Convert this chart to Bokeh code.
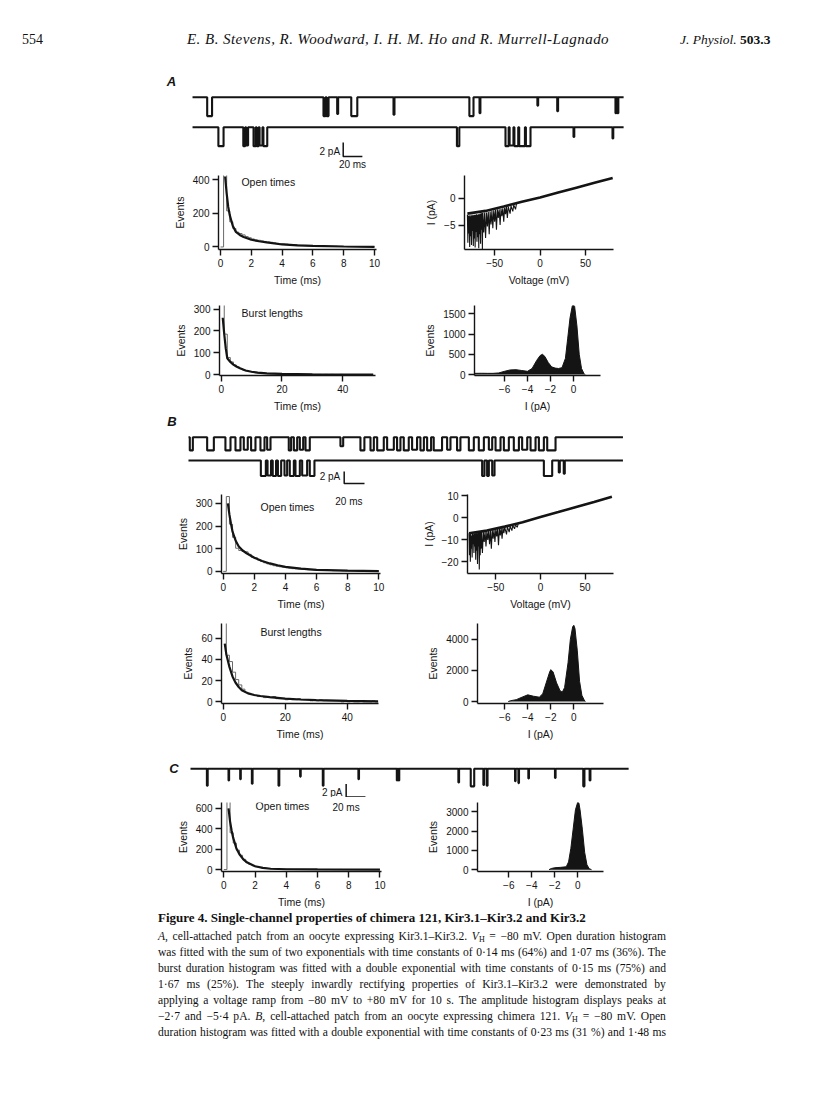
from bokeh.plotting import figure
from bokeh.layouts import column, row
from bokeh.models import Div, Label, Range1d, FixedTicker, Spacer
from bokeh.embed import file_html
from bokeh.resources import INLINE

SANS = "Liberation Sans"
SERIF = "Liberation Serif"
INK = "#141414"
GREY = "#6a6a6a"

# ---------------------------------------------------------------- data
# scale bars of the single-channel records
SCALE_PA = 2
SCALE_MS = 20

# Panel A records: openings (start ms, end ms, current pA)
A_LEN = 450.0
a1_start = [15.3, 136.7, 140.0, 151.0, 165.7, 209.8, 289.0, 299.6, 360.0, 380.7, 441.5, 443.6]
a1_end = [20.4, 138.8, 142.0, 152.0, 172.0, 210.8, 293.3, 300.5, 360.8, 381.6, 442.3, 444.5]
a1_amp = [-2.7, -2.7, -2.7, -2.4, -2.7, -2.5, -2.7, -2.3, -1.2, -2.0, -2.3, -2.3]
a2_start = [27.0, 53.0, 56.0, 63.7, 67.0, 70.0, 74.0, 276.0, 326.7, 331.0, 336.0, 341.0, 348.0, 397.7, 438.4]
a2_end = [32.4, 55.0, 58.0, 66.0, 69.0, 73.0, 78.0, 278.5, 330.0, 335.0, 340.0, 347.0, 352.8, 398.5, 439.2]
a2_amp = [-2.7, -2.7, -2.6, -2.7, -2.7, -2.6, -2.7, -2.7, -2.7, -2.6, -2.7, -2.7, -2.7, -1.4, -1.6]

# Panel B records
B_LEN = 428.0
b1_start = [1.3, 18.4, 36.4, 46.3, 54.5, 61.7, 70.9, 77.5, 98.8, 103.8, 109.7, 115.3, 149.7, 169.4,
            179.3, 185.9, 195.7, 205.5, 212.1, 220.3, 228.5, 235.1, 241.6, 254.8, 264.6, 276.2,
            286.0, 295.9, 302.5, 310.7, 320.5, 328.7, 337.0, 345.2, 353.4]
b1_end = [4.3, 25.0, 41.4, 51.2, 58.4, 66.0, 74.9, 80.8, 101.1, 107.1, 113.0, 119.5, 152.4, 173.3,
          182.6, 192.4, 202.3, 208.8, 217.0, 225.2, 231.9, 239.0, 249.8, 258.1, 267.9, 281.1,
          291.0, 299.2, 307.4, 315.6, 325.5, 333.7, 341.9, 350.1, 361.6]
b1_amp = [-2.2, -2.2, -2.2, -2.2, -2.1, -2.2, -2.2, -2.1, -2.2, -2.2, -2.1, -2.2, -1.5, -2.2,
          -2.2, -2.2, -2.1, -2.2, -2.2, -2.1, -2.2, -2.2, -2.2, -2.1, -2.2, -2.2,
          -2.2, -2.1, -2.2, -2.2, -2.2, -2.1, -2.2, -2.2, -2.2]
b2_start = [71.3, 77.9, 83.0, 88.1, 94.6, 99.8, 105.4, 112.0, 119.5, 289.3, 294.2, 299.2, 350.1, 364.8, 369.7]
b2_end = [76.2, 81.3, 86.3, 91.3, 97.2, 103.8, 109.7, 116.9, 124.1, 291.6, 295.9, 301.5, 358.3, 365.8, 370.7]
b2_amp = [-2.6, -2.5, -2.6, -2.6, -2.5, -2.6, -2.6, -2.5, -2.6, -2.6, -2.6, -2.5, -2.6, -2.0, -2.2]

# Panel C record
C_LEN = 454.0
c_start = [17.0, 39.4, 51.5, 63.6, 91.2, 113.6, 137.1, 174.0, 213.8, 215.6, 277.6, 290.4, 303.5,
           307.0, 336.3, 339.8, 350.1, 377.7, 407.0, 413.6]
c_end = [17.8, 40.0, 52.1, 64.3, 92.0, 114.2, 137.8, 174.6, 214.4, 216.3, 278.3, 294.0, 304.2,
         307.8, 336.9, 340.4, 350.7, 378.3, 408.2, 414.4]
c_amp = [-2.6, -1.8, -1.6, -2.3, -2.6, -1.2, -2.6, -1.6, -1.8, -1.8, -2.1, -2.7, -2.5,
         -2.6, -1.9, -2.2, -1.5, -1.4, -2.7, -1.8]

# open-time histograms (0.2 ms bins from 0 to 10 ms)
OPEN_BIN = 0.2
a_open_counts = [0, 470, 215, 150, 110, 88, 80, 72, 62, 55, 48, 43, 40, 36, 33, 30, 28, 25, 22, 20,
                 18, 17, 15, 14, 12, 11, 10, 9, 8, 8, 7, 6, 6, 5, 5, 4, 4, 4, 3, 3,
                 3, 2, 2, 2, 2, 1, 1, 1, 1, 1]
a_open_fit_t = [0.3, 0.4, 0.5, 0.6, 0.8, 1.0, 1.25, 1.5, 2.0, 2.5, 3.0, 4.0, 5.0, 6.0, 8.0, 10.0]
a_open_fit_n = [420, 320, 240, 190, 125, 90, 72, 60, 43, 34, 27, 15, 10, 7, 3, 1]

b_open_counts = [0, 330, 208, 150, 102, 92, 88, 86, 75, 62, 60, 50, 44, 38, 33, 29, 25, 22, 20, 18,
                 16, 14, 12, 11, 10, 9, 8, 7, 7, 6, 5, 5, 4, 4, 4, 3, 3, 3, 2, 2,
                 2, 2, 2, 1, 1, 1, 1, 1, 1, 1]
b_open_fit_t = [0.3, 0.4, 0.5, 0.6, 0.8, 1.0, 1.25, 1.5, 2.0, 2.5, 3.0, 3.5, 4.0, 5.0, 6.0, 8.0, 10.0]
b_open_fit_n = [300, 250, 210, 175, 135, 110, 92, 80, 60, 46, 35, 27, 20, 12, 7, 3, 1]

c_open_counts = [0, 760, 360, 260, 190, 140, 100, 70, 50, 38, 28, 20, 15, 12, 10, 8, 6, 5, 4, 4,
                 3, 3, 2, 2, 2, 2, 1, 1, 1, 1, 1, 1, 1, 1, 1, 0, 0, 1, 0, 0,
                 0, 0, 0, 0, 0, 0, 0, 0, 0, 0]
c_open_fit_t = [0.3, 0.4, 0.5, 0.6, 0.8, 1.0, 1.25, 1.5, 2.0, 2.5, 3.0, 4.0, 6.0, 10.0]
c_open_fit_n = [600, 470, 380, 310, 210, 150, 100, 68, 32, 16, 8, 3, 1, 0]

# burst-length histograms (1 ms bins from 0 to 50 ms)
BURST_BIN = 1.0
a_burst_counts = [330, 185, 78, 58, 44, 35, 27, 21, 17, 14, 11, 9, 7, 6, 5, 4, 3, 3, 2, 2,
                  2, 1, 1, 1, 1, 1, 1, 1, 1, 1, 1, 1, 1, 0, 1, 0, 1, 0, 0, 1,
                  0, 0, 0, 0, 0, 0, 0, 0, 0, 0]
a_burst_fit_t = [0.5, 1.0, 1.5, 2.0, 3.0, 4.0, 5.0, 6.0, 8.0, 10.0, 12.0, 15.0, 20.0, 30.0, 50.0]
a_burst_fit_n = [260, 185, 120, 75, 58, 46, 37, 30, 19, 13, 9, 6, 3, 1, 0]

b_burst_counts = [80, 44, 38, 28, 21, 16, 12, 9, 8, 7, 6, 5, 5, 4, 5, 4, 5, 3, 3, 3,
                  2, 3, 2, 2, 3, 2, 2, 2, 1, 2, 1, 2, 1, 1, 1, 1, 1, 1, 0, 1,
                  0, 1, 0, 0, 1, 0, 0, 0, 1, 0]
b_burst_fit_t = [0.5, 1.0, 2.0, 3.0, 4.0, 5.0, 6.0, 8.0, 10.0, 12.0, 15.0, 20.0, 25.0, 30.0, 40.0, 50.0]
b_burst_fit_n = [55, 45, 33, 24, 18, 14, 11, 8, 6.5, 5.5, 4.5, 3, 2.2, 1.6, 0.9, 0.5]

# current-voltage ramps: upper edge of the ramp and the noisy openings below it
a_ramp_v = [-80, -60, -40, -20, 0, 20, 40, 60, 80]
a_ramp_i = [-2.8, -2.3, -1.5, -0.6, 0.2, 1.1, 2.0, 2.9, 3.8]
a_open_v = [-80, -79.5, -79, -78.5, -78, -77.5, -77, -76.5, -76, -75.5, -75, -74.5, -74, -73.5, -73,
            -72.5, -72, -71.5, -71, -70.5, -70, -69.5, -69, -68.5, -68, -67.5, -67, -66.5, -66,
            -65.5, -65, -64.5, -64, -63.5, -63, -62, -61, -60, -59, -58, -57, -56, -55, -54, -53,
            -52, -51, -50, -49, -48, -47, -46, -45, -44, -43, -42, -41, -40, -39, -38, -37, -36,
            -35, -33, -32, -30, -29, -27, -26]
a_open_i = [-3.0, -8.2, -3.2, -6.5, -3.1, -9.0, -3.3, -7.0, -3.0, -8.6, -3.2, -6.0, -3.0, -8.8, -3.1,
            -7.4, -3.0, -9.1, -3.0, -6.2, -2.9, -8.0, -3.0, -7.2, -2.9, -9.2, -2.9, -6.6, -2.8,
            -8.4, -2.8, -5.8, -2.7, -9.4, -2.7, -6.3, -2.6, -7.3, -2.6, -5.2, -2.5, -6.6, -2.4, -4.8, -2.3,
            -5.5, -2.2, -4.3, -2.1, -5.8, -2.0, -3.6, -2.0, -4.9, -1.9, -3.3, -1.8, -4.3, -1.7, -2.9, -1.6, -3.6,
            -1.5, -2.8, -1.4, -2.4, -1.2, -2.0, -1.0]

b_ramp_v = [-80, -60, -40, -20, 0, 20, 40, 60, 80]
b_ramp_i = [-7.0, -5.8, -4.0, -2.0, 0.4, 2.6, 4.9, 7.2, 9.6]
b_open_v = [-80, -79.5, -79, -78.5, -78, -77.5, -77, -76.5, -76, -75.5, -75, -74.5, -74, -73.5, -73,
            -72.5, -72, -71.5, -71, -70.5, -70, -69.5, -69, -68.5, -68, -67.5, -67, -66.5, -66, -65,
            -64, -63, -62, -61, -60, -59, -58, -57, -56, -55, -54, -53, -52, -51, -50, -49, -48, -47,
            -46, -45, -44, -43, -42, -41, -40, -38, -37, -35, -34, -32, -31, -29, -28, -26, -25]
b_open_i = [-7.0, -17, -7.5, -20, -7.0, -14, -8.0, -18, -7.0, -12, -7.5, -16, -7.0, -13, -7.0,
            -19, -6.8, -15, -7.0, -21, -6.8, -13, -6.7, -23.5, -6.6, -17, -6.5, -14, -6.4, -16,
            -6.3, -11, -6.2, -13, -6.1, -10, -5.9, -12, -5.8, -14, -5.6, -9.5, -5.4, -11, -5.2, -8.5, -5.0, -12.5,
            -4.9, -8.0, -4.7, -9.5, -4.5, -7.0, -4.3, -7.5, -4.1, -6.5, -3.8, -5.8, -3.5, -5.0, -3.2, -4.3, -2.9]

# amplitude histograms (current pA, events)
a_amp_i = [-8.6, -8.0, -7.5, -7.0, -6.5, -6.0, -5.5, -5.0, -4.5, -4.0, -3.6, -3.2, -2.9, -2.7, -2.5,
           -2.2, -1.9, -1.6, -1.3, -1.0, -0.7, -0.5, -0.3, -0.1, 0.0, 0.1, 0.3, 0.5, 0.7, 0.9, 1.0]
a_amp_n = [30, 32, 30, 30, 40, 80, 115, 120, 100, 80, 150, 350, 470, 500, 450,
           300, 190, 160, 150, 170, 400, 900, 1400, 1700, 1720, 1680, 1200, 500, 150, 30, 0]
b_amp_i = [-5.7, -5.5, -5.0, -4.5, -4.0, -3.5, -3.0, -2.7, -2.4, -2.1, -2.0, -1.8, -1.5, -1.2, -1.0,
           -0.8, -0.5, -0.3, -0.1, 0.0, 0.1, 0.3, 0.5, 0.7, 0.9, 1.0]
b_amp_n = [0, 50, 120, 280, 430, 340, 280, 500, 1200, 1900, 2050, 1900, 1200, 700, 600,
           900, 2500, 4000, 4800, 4900, 4700, 3300, 1300, 400, 100, 0]
c_amp_i = [-2.5, -2.3, -2.0, -1.5, -1.0, -0.8, -0.6, -0.4, -0.2, 0.0, 0.1, 0.2, 0.4, 0.6, 0.8, 1.0, 1.2]
c_amp_n = [0, 60, 100, 120, 150, 400, 1100, 2100, 3100, 3500, 3450, 3100, 2100, 900, 250, 50, 0]

# tick values
open_xticks = [0, 2, 4, 6, 8, 10]
burst_xticks = [0, 20, 40]
iv_xticks = [-50, 0, 50]
amp_xticks = [-6, -4, -2, 0]

# text
HEADER_PAGE = "554"
HEADER_AUTHORS = "E. B. Stevens, R. Woodward, I. H. M. Ho and R. Murrell-Lagnado"
HEADER_JOURNAL = "J. Physiol."
HEADER_VOLUME = "503.3"
CAPTION_TITLE = "Figure 4. Single-channel properties of chimera 121, Kir3.1\u2013Kir3.2 and Kir3.2"
CAPTION_LINES = [
    "<i>A</i>, cell-attached patch from an oocyte expressing Kir3.1\u2013Kir3.2. @VH@ = \u221280 mV. Open duration histogram",
    "was fitted with the sum of two exponentials with time constants of 0\u00b714 ms (64%) and 1\u00b707 ms (36%). The",
    "burst duration histogram was fitted with a double exponential with time constants of 0\u00b715 ms (75%) and",
    "1\u00b767 ms (25%). The steeply inwardly rectifying properties of Kir3.1\u2013Kir3.2 were demonstrated by",
    "applying a voltage ramp from \u221280 mV to +80 mV for 10 s. The amplitude histogram displays peaks at",
    "\u22122\u00b77 and \u22125\u00b74 pA. <i>B</i>, cell-attached patch from an oocyte expressing chimera 121. @VH@ = \u221280 mV. Open",
    "duration histogram was fitted with a double exponential with time constants of 0\u00b723 ms (31 %) and 1\u00b748 ms",
]


# ---------------------------------------------------------------- helpers
def tick_text(v):
    s = str(int(v)) if float(v).is_integer() else str(v)
    return s.replace("-", "\u2212")


def base_fig(w, h, xr, yr, mb):
    l, r, t, b = mb
    p = figure(width=w, height=h, x_range=Range1d(*xr), y_range=Range1d(*yr),
               output_backend="svg", toolbar_location=None, title=None,
               min_border_left=l, min_border_right=r, min_border_top=t, min_border_bottom=b)
    p.outline_line_color = None
    p.xgrid.visible = False
    p.ygrid.visible = False
    p.background_fill_color = "white"
    p.border_fill_color = "white"
    return p


def style_axes(p, xticks, yticks, xlabel, ylabel):
    p.xaxis.ticker = FixedTicker(ticks=xticks)
    p.yaxis.ticker = FixedTicker(ticks=yticks)
    p.xaxis.major_label_overrides = {v: tick_text(v) for v in xticks}
    p.yaxis.major_label_overrides = {v: tick_text(v) for v in yticks}
    p.xaxis.axis_label = xlabel
    p.yaxis.axis_label = ylabel
    for ax in (p.xaxis[0], p.yaxis[0]):
        ax.axis_line_width = 1.4
        ax.axis_line_color = INK
        ax.major_tick_line_width = 1.4
        ax.major_tick_line_color = INK
        ax.major_tick_in = 0
        ax.major_tick_out = 6
        ax.minor_tick_line_color = None
        ax.major_label_text_font = SANS
        ax.major_label_text_font_size = "10px"
        ax.major_label_text_color = INK
        ax.major_label_standoff = 3
        ax.axis_label_text_font = SANS
        ax.axis_label_text_font_size = "10.5px"
        ax.axis_label_text_font_style = "normal"
        ax.axis_label_text_color = INK
        ax.axis_label_standoff = 4


def add_label(p, x, y, text, size="10.5px", align="left", style="normal", baseline="middle"):
    p.add_layout(Label(x=x, y=y, text=text, text_font=SANS, text_font_size=size,
                       text_font_style=style, text_align=align, text_baseline=baseline,
                       text_color=INK))


def trace_xy(length, starts, ends, amps, offset):
    xs, ys = [0.0], [offset]
    for s, e, a in zip(starts, ends, amps):
        xs += [s, s, e, e]
        ys += [offset, offset + a, offset + a, offset]
    xs.append(length)
    ys.append(offset)
    return xs, ys


def trace_fig(h, xr, yr):
    p = figure(width=800, height=h, x_range=Range1d(*xr), y_range=Range1d(*yr),
               output_backend="svg", toolbar_location=None, title=None,
               x_axis_type=None, y_axis_type=None, min_border=0)
    p.outline_line_color = None
    p.background_fill_color = "white"
    p.border_fill_color = "white"
    return p


def scale_bar(p, t0, y0, label_x, label_y):
    p.line([t0, t0, t0 + SCALE_MS], [y0 + SCALE_PA, y0, y0], line_color=INK, line_width=1.5)
    add_label(p, label_x, label_y, f"{SCALE_PA} pA", size="10px", align="right")


def hist_fig(w, h, xr, yr, mb, counts, binw, fit_t, fit_n, xticks, yticks):
    p = base_fig(w, h, xr, yr, mb)
    edges = [i * binw for i in range(len(counts) + 1)]
    p.step(edges, counts + [0], mode="after", line_color=GREY, line_width=1)
    p.line(fit_t, fit_n, line_color=INK, line_width=2.2)
    style_axes(p, xticks, yticks, "Time (ms)", "Events")
    return p


def iv_fig(w, h, xr, yr, mb, rv, ri, ov, oi, yticks):
    p = base_fig(w, h, xr, yr, mb)
    p.line(ov, oi, line_color=INK, line_width=1.1)
    p.line(rv, ri, line_color=INK, line_width=2.6)
    style_axes(p, iv_xticks, yticks, "Voltage (mV)", "I (pA)")
    return p


def amp_fig(w, h, xr, yr, mb, ai, an, yticks):
    p = base_fig(w, h, xr, yr, mb)
    p.varea(x=ai, y1=[0] * len(ai), y2=an, fill_color=INK)
    p.line(ai, an, line_color=INK, line_width=1)
    style_axes(p, amp_xticks, yticks, "I (pA)", "Events")
    return p


# ---------------------------------------------------------------- header
header_html = (
    f'<div style="position:relative;width:800px;height:54px;font-family:\'{SERIF}\',serif;color:#111;">'
    f'<span style="position:absolute;left:14px;top:24px;font-size:14px;line-height:16px;">{HEADER_PAGE}</span>'
    f'<span style="position:absolute;left:179px;top:23px;font-size:15px;line-height:17px;font-style:italic;letter-spacing:0.45px;white-space:nowrap;">{HEADER_AUTHORS}</span>'
    f'<span style="position:absolute;left:672px;top:23px;font-size:13.5px;line-height:17px;white-space:nowrap;">'
    f'<i>{HEADER_JOURNAL}</i> <b>{HEADER_VOLUME}</b></span>'
    '</div>'
)
header = Div(text=header_html, width=800, height=54, margin=0)

# ---------------------------------------------------------------- panel A
a_tr = trace_fig(109, (-192.1, 643.0), (-10.61, 4.96))
for st, en, am, off in ((a1_start, a1_end, a1_amp, 0.0), (a2_start, a2_end, a2_amp, -4.29)):
    xs, ys = trace_xy(A_LEN, st, en, am, off)
    a_tr.line(xs, ys, line_color=INK, line_width=2.1)
scale_bar(a_tr, 157.3, -8.45, 154.0, -7.8)
add_label(a_tr, 167.0, -9.66, f"{SCALE_MS} ms", size="10px", align="center")
add_label(a_tr, -21.9, 2.24, "A", size="13px", align="center", style="bold italic")

a_open = hist_fig(392, 117, (-0.13, 10.13), (-15, 426), (210, 24, 0, 37),
                  a_open_counts, OPEN_BIN, a_open_fit_t, a_open_fit_n, open_xticks, [0, 200, 400])
add_label(a_open, 1.36, 390, "Open times")

a_iv = iv_fig(408, 117, (-83.2, 80.9), (-9.45, 4.26), (64, 195, 4, 38),
              a_ramp_v, a_ramp_i, a_open_v, a_open_i, [-5, 0])

a_burst = hist_fig(392, 126, (-0.56, 50.76), (-4, 316), (211, 25, 12, 33),
                   a_burst_counts, BURST_BIN, a_burst_fit_t, a_burst_fit_n, burst_xticks, [0, 100, 200, 300])
add_label(a_burst, 6.7, 282, "Burst lengths")

a_amp = amp_fig(408, 126, (-8.61, 2.35), (-23, 1705), (74, 208, 17, 33),
                a_amp_i, a_amp_n, [0, 500, 1000, 1500])

# ---------------------------------------------------------------- panel B
b_tr = trace_fig(75, (-177.3, 610.8), (-8.72, 3.78))
for st, en, am, off in ((b1_start, b1_end, b1_amp, 0.0), (b2_start, b2_end, b2_amp, -3.88)):
    xs, ys = trace_xy(B_LEN, st, en, am, off)
    b_tr.line(xs, ys, line_color=INK, line_width=2.1)
scale_bar(b_tr, 153.4, -7.72, 149.5, -6.55)
add_label(b_tr, -16.3, 2.6, "B", size="13px", align="center", style="bold italic")

b_open = hist_fig(392, 123, (-0.11, 10.11), (-9.4, 339), (213, 20, 0, 38),
                  b_open_counts, OPEN_BIN, b_open_fit_t, b_open_fit_n, open_xticks, [0, 100, 200, 300])
add_label(b_open, 2.4, 283, "Open times")
add_label(b_open, 8.08, 308, f"{SCALE_MS} ms", size="10px", align="center")

b_iv = iv_fig(408, 123, (-81.7, 81.8), (-25.3, 10.6), (67, 195, 5, 39),
              b_ramp_v, b_ramp_i, b_open_v, b_open_i, [-20, -10, 0, 10])

b_burst = hist_fig(392, 130, (-0.55, 50.1), (-1.55, 73.9), (213, 22, 11, 36),
                   b_burst_counts, BURST_BIN, b_burst_fit_t, b_burst_fit_n, burst_xticks, [0, 20, 40, 60])
add_label(b_burst, 12.0, 66, "Burst lengths")

b_amp = amp_fig(408, 130, (-8.37, 2.58), (-127, 5016), (77, 205, 11, 38),
                b_amp_i, b_amp_n, [0, 2000, 4000])

# ---------------------------------------------------------------- panel C
c_tr = trace_fig(55, (-188.6, 640.4), (-4.42, 4.05))
xs, ys = trace_xy(C_LEN, c_start, c_end, c_amp, 0.0)
c_tr.line(xs, ys, line_color=INK, line_width=2.1)
scale_bar(c_tr, 161.3, -4.35, 157.5, -3.6)
add_label(c_tr, -17.1, 0.12, "C", size="13px", align="center", style="bold italic")

c_open = hist_fig(392, 113, (-0.15, 10.1), (-19, 657), (213, 19, 5, 38),
                  c_open_counts, OPEN_BIN, c_open_fit_t, c_open_fit_n, open_xticks, [0, 200, 400, 600])
add_label(c_open, 2.03, 621, "Open times")
add_label(c_open, 7.83, 611, f"{SCALE_MS} ms", size="10px", align="center")

c_amp = amp_fig(408, 113, (-8.72, 2.24), (-95, 3480), (77, 205, 0, 37),
                c_amp_i, c_amp_n, [0, 1000, 2000, 3000])

# ---------------------------------------------------------------- caption
VH = '<i>V</i><sub style="font-size:8px;vertical-align:-2px;line-height:0;">H</sub>'


def just_line(text):
    toks = text.split(" ")
    spans = "".join("<span>" + t.replace("@VH@", VH) + "</span>" for t in toks)
    return ('<div style="display:flex;justify-content:space-between;height:16px;'
            'line-height:16px;font-size:11.6px;white-space:nowrap;">' + spans + '</div>')


caption_html = (
    f'<div style="margin-left:150px;width:508px;font-family:\'{SERIF}\',serif;color:#111;">'
    f'<div style="height:19px;line-height:16px;font-size:13px;font-weight:bold;white-space:nowrap;">{CAPTION_TITLE}</div>'
    + "".join(just_line(t) for t in CAPTION_LINES)
    + '</div>'
)
caption = Div(text=caption_html, width=800, height=155, margin=0)

body = column(
    header,
    a_tr,
    row(a_open, a_iv),
    row(a_burst, a_amp),
    b_tr,
    row(b_open, b_iv),
    row(b_burst, b_amp),
    c_tr,
    row(c_open, c_amp),
    caption,
)
layout = column(Spacer(width=808, height=8), row(Spacer(width=8, height=1057), body))

open("out.html", "w").write(file_html(layout, INLINE, "Figure 4"))
